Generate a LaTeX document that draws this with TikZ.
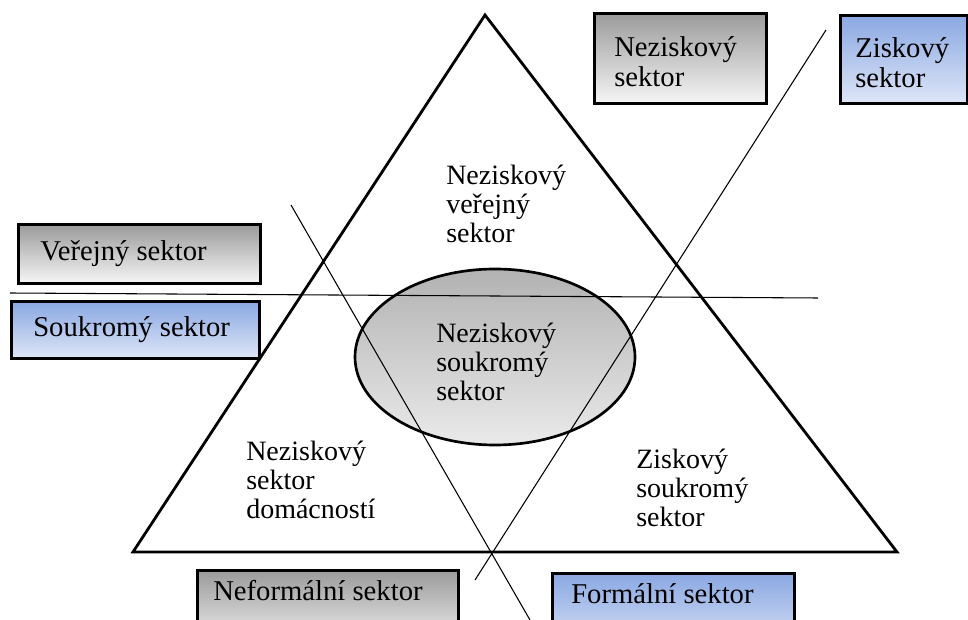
\documentclass[tikz,border=0pt]{standalone}
\usepackage{fontspec}
\setmainfont{Liberation Serif}
\usetikzlibrary{shapes.geometric}
\definecolor{gtop}{RGB}{155,155,155}
\definecolor{gbot}{RGB}{246,246,246}
\definecolor{btop}{RGB}{138,168,226}
\definecolor{bbot}{RGB}{222,230,247}
\definecolor{etop}{RGB}{178,178,178}
\definecolor{ebot}{RGB}{234,234,234}
\begin{document}
\begin{tikzpicture}[x=0.75pt,y=-0.75pt,
  lbl/.style={font=\fontsize{21pt}{21.6pt}\selectfont, align=left, inner sep=0pt, anchor=west},
  blbl/.style={font=\fontsize{21.5pt}{22.5pt}\selectfont, align=left, inner sep=0pt, anchor=west},
  sbox/.style={draw=black, line width=2.2pt, rectangle, inner sep=0pt, anchor=north west},
  graybox/.style={sbox, top color=gtop, bottom color=gbot},
  bluebox/.style={sbox, top color=btop, bottom color=bbot},
  thin/.style={line width=0.8pt}]
\clip (0,0) rectangle (968,620);
\useasboundingbox (0,0) rectangle (968,620);
% triangle
\coordinate (apex) at (485,15);
\coordinate (bl) at (133,552);
\coordinate (br) at (897,552);
\draw[line width=2.1pt, line join=miter] (apex) -- (bl) -- (br) -- cycle;
% ellipse
\node[draw=black, line width=2pt, top color=etop, bottom color=ebot,
  shape=ellipse, minimum width=210pt, minimum height=132pt, inner sep=0pt] (ell) at (495,357) {};
% lines
\coordinate (h1) at (10,293);
\coordinate (h2) at (818,298);
\coordinate (d1) at (291,205);
\coordinate (d2) at (530,620);
\coordinate (a1) at (475,580);
\coordinate (a2) at (826,30);
\draw[thin] (h1) -- (h2);
\draw[thin] (d1) -- (d2);
\draw[thin] (a1) -- (a2);
% boxes
\node[graybox, minimum width=129pt, minimum height=67.5pt] (bnzs) at (593,12) {};
\node[blbl] (nzs) at (614,62) {Neziskový\\sektor};
\node[bluebox, minimum width=95.25pt, minimum height=66pt] (bzs) at (839,14) {};
\node[blbl] (zs) at (855,63) {Ziskový\\sektor};
\node[graybox, minimum width=181.5pt, minimum height=44.25pt] (bvs) at (17,223) {};
\node[blbl] (vs) at (40,254) {Veřejný sektor};
\node[bluebox, minimum width=186pt, minimum height=42.75pt] (bss) at (10,300) {};
\node[blbl] (ss) at (33,330) {Soukromý sektor};
\node[graybox, minimum width=195.75pt, minimum height=60pt] (bnfs) at (196,569) {};
\node[blbl] (nfs) at (213,591) {Neformální sektor};
\node[bluebox, minimum width=181.5pt, minimum height=60pt] (bfs) at (551,572) {};
\node[blbl] (fs) at (571,594) {Formální sektor};
% inner labels
\node[lbl] (nvs) at (446,204) {Neziskový\\veřejný\\sektor};
\node[lbl] (nss) at (436,362) {Neziskový\\soukromý\\sektor};
\node[lbl] (nsd) at (246,480) {Neziskový\\sektor\\domácností};
\node[lbl] (zss) at (636,488) {Ziskový\\soukromý\\sektor};
\end{tikzpicture}
\end{document}
